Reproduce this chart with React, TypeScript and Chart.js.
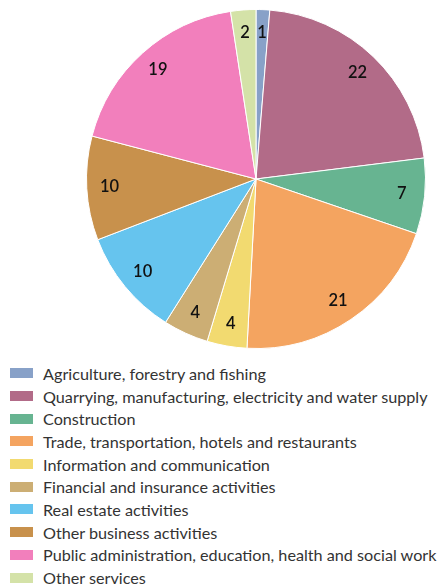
import React, { useEffect, useRef } from "react";
import { Chart, registerables } from "chart.js";

Chart.register(...registerables);

const categories = [
  "Agriculture, forestry and fishing",
  "Quarrying, manufacturing, electricity and water supply",
  "Construction",
  "Trade, transportation, hotels and restaurants",
  "Information and communication",
  "Financial and insurance activities",
  "Real estate activities",
  "Other business activities",
  "Public administration, education, health and social work",
  "Other services",
];

const shares = [1.3, 21.7, 7.2, 20.6, 3.8, 4.3, 10.2, 9.9, 18.5, 2.4];

const colors = [
  "#88a1c8",
  "#b26b88",
  "#67b491",
  "#f4a460",
  "#f2da70",
  "#ccae74",
  "#66c4ee",
  "#c8914c",
  "#f27fbc",
  "#d4e2a8",
];

const FONT = "Lato, 'Open Sans', sans-serif";

const labelPlugin = {
  id: "sliceLabels",
  afterDatasetsDraw(chart: any) {
    const ctx = chart.ctx;
    const meta = chart.getDatasetMeta(0);
    ctx.save();
    ctx.font = `600 16.5px ${FONT}`;
    ctx.fillStyle = "#111";
    ctx.textAlign = "center";
    ctx.textBaseline = "middle";
    meta.data.forEach((arc: any, i: number) => {
      const p = arc.getProps(["x", "y", "startAngle", "endAngle", "outerRadius"], true);
      const mid = (p.startAngle + p.endAngle) / 2;
      const r = p.outerRadius * 0.865;
      ctx.fillText(String(Math.round(shares[i])), p.x + Math.cos(mid) * r, p.y + Math.sin(mid) * r);
    });
    ctx.restore();
  },
};

export default function App() {
  const ref = useRef<HTMLCanvasElement>(null);
  useEffect(() => {
    if (!ref.current) return;
    const chart = new Chart(ref.current, {
      type: "pie",
      data: {
        labels: categories,
        datasets: [
          {
            data: shares,
            backgroundColor: colors,
            borderColor: "#ffffff",
            borderWidth: 1,
          },
        ],
      },
      options: {
        responsive: false,
        animation: false,
        layout: { padding: { left: 86, right: 14, top: 9, bottom: 11 } },
        plugins: {
          legend: { display: false },
          tooltip: { enabled: false },
        },
      },
      plugins: [labelPlugin],
    });
    return () => chart.destroy();
  }, []);

  return (
    <div style={{ position: "absolute", left: 0, top: 0, width: 440, height: 587, background: "#fff" }}>
      <canvas ref={ref} width={440} height={360} style={{ display: "block" }} />
      <div style={{ position: "absolute", left: 10, top: 362, fontFamily: FONT, fontSize: 16.2, color: "#333" }}>
        {categories.map((c, i) => (
          <div key={c} style={{ display: "flex", alignItems: "center", height: 22.7, whiteSpace: "nowrap" }}>
            <span style={{ display: "inline-block", width: 23, height: 10, background: colors[i], marginRight: 10, flexShrink: 0 }} />
            <span>{c}</span>
          </div>
        ))}
      </div>
    </div>
  );
}
